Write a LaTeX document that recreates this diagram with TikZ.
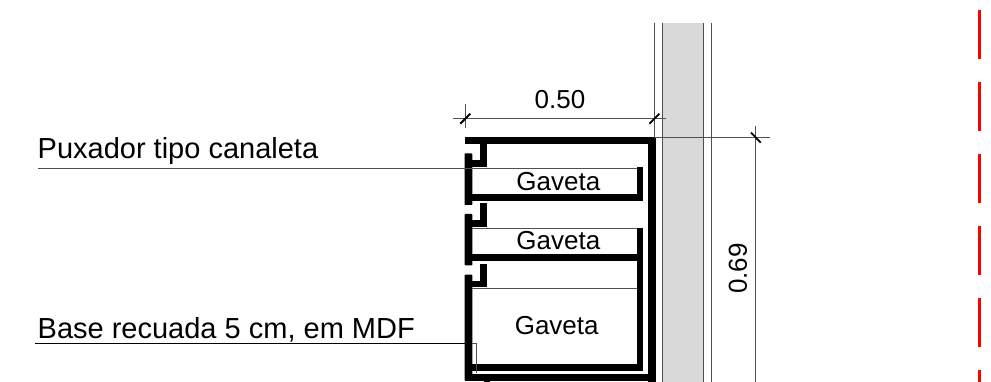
\documentclass[tikz,border=0pt]{standalone}
\usepackage{fontspec}
\setmainfont{Liberation Sans}
\definecolor{wallgrey}{HTML}{D9D9D9}
\definecolor{wallline}{HTML}{505050}
\definecolor{dashred}{HTML}{FF0000}
\tikzset{
  thinline/.style={draw=wallline,line width=0.9pt},
  leader/.style={draw=wallline,line width=0.9pt},
  dimline/.style={draw=wallline,line width=0.8pt},
  dimtick/.style={draw=black,line width=1.8pt},
  panel/.style={fill=black},
  labeltext/.style={font=\fontsize{29}{29}\selectfont,inner sep=0pt,anchor=base west},
  drawertext/.style={font=\fontsize{26}{26}\selectfont,inner sep=0pt,anchor=base},
  cutline/.style={draw=dashred,line width=3pt,dash pattern=on 49pt off 23pt}
}
\begin{document}
\begin{tikzpicture}[x=1pt,y=-1pt]
\useasboundingbox (0,0) rectangle (991,382);
\clip (0,0) rectangle (991,382);
% wall
\fill[wallgrey] (662,23) rectangle (704,382);
\foreach \wx in {654.4,662,703.8,711}{\draw[thinline] (\wx,23) -- (\wx,382);}
% top and right carcass
\fill[panel] (464.5,137) rectangle (655.5,143.7);
\fill[panel] (647.5,137) rectangle (655.5,382);
\fill[panel] (464.5,373.5) rectangle (655.5,380.7);
% drawer 1
\fill[panel,rounded corners=0.8pt] (464.5,153.3) rectangle (472.3,205);
\fill[panel] (464.5,194) rectangle (643.3,200.7);
\fill[panel] (636.7,167.3) rectangle (643.3,200.7);
\fill[panel] (480,143) rectangle (487,167);
\fill[panel] (472,160) rectangle (487,167);
\draw[thinline] (472,168) -- (637,168);
% drawer 2
\fill[panel,rounded corners=0.8pt] (464.5,214) rectangle (472.3,265.3);
\fill[panel] (464.5,254.3) rectangle (643.3,261);
\fill[panel] (636.7,228) rectangle (643.3,370.7);
\fill[panel] (480,203.3) rectangle (487,226.7);
\fill[panel] (472,220) rectangle (487,226.7);
\draw[thinline] (472,228) -- (637,228);
% drawer 3
\fill[panel,rounded corners=0.8pt] (464.5,274.7) rectangle (472.3,380.7);
\fill[panel] (464.5,364.3) rectangle (643.3,370.7);
\fill[panel] (480,263.7) rectangle (487,287);
\fill[panel] (472,281) rectangle (487,287);
\draw[thinline] (472,288.7) -- (637,288.7);
\fill[panel] (483.5,380) rectangle (490,382);
% labels
\node[labeltext] (puxador) at (37.5,158.7) {Puxador tipo canaleta};
\node[labeltext] (base) at (37.5,338) {Base recuada 5 cm, em MDF};
\node[drawertext] (gav1) at (558.3,190.2) {Gaveta};
\node[drawertext] (gav2) at (558.3,249.7) {Gaveta};
\node[drawertext] (gav3) at (556.7,334.7) {Gaveta};
\node[drawertext] (dimw) at (560,108.8) {0.50};
\node[drawertext,rotate=90] (dimh) at (746.8,268.5) {0.69};
% leaders
\coordinate (pa) at (38,168);
\coordinate (pb) at (472,168);
\draw[leader] (pa) -- (pb);
\coordinate (ba) at (35,343.7);
\coordinate (bb) at (476,343.7);
\coordinate (bc) at (476,373);
\draw[draw=black,line width=0.7pt] (ba) -- (472,343.7);
\draw[draw=wallline,line width=0.5pt] (472,343.7) -- (bb) -- (bc);
% width dimension
\coordinate (wl) at (453.3,118.7);
\coordinate (wr) at (666,118.7);
\draw[dimline] (wl) -- (wr);
\draw[dimline] (465.3,104) -- (465.3,128);
\draw[dimtick] (460.3,123.7) -- (470.3,113.7);
\draw[dimtick] (649.4,123.7) -- (659.4,113.7);
% height dimension
\coordinate (hl) at (654,137.6);
\coordinate (hr) at (770,137.6);
\draw[dimline] (hl) -- (hr);
\draw[dimline] (755.7,126.3) -- (755.7,382);
\draw[dimtick] (751,132.6) -- (760.7,142.6);
% cut line
\coordinate (cuttop) at (979.7,10);
\coordinate (cutbot) at (979.7,382);
\draw[cutline] (cuttop) -- (cutbot);
\end{tikzpicture}
\end{document}
